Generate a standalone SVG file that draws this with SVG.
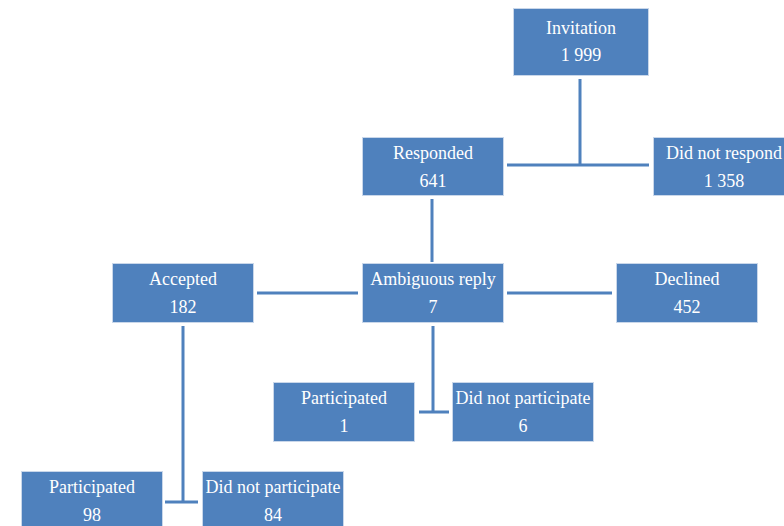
<svg xmlns="http://www.w3.org/2000/svg" width="784" height="526" viewBox="0 0 784 526">
<style>
.box{fill:#4F81BD;stroke:#C9D7EA;stroke-width:1}
.t{font-family:"Liberation Serif","Times New Roman",serif;font-size:18px;fill:#fff;text-anchor:middle}
.c{stroke:#4F81BD;stroke-width:3;fill:none}
</style>
<rect width="784" height="526" fill="#fff"/>
<g id="connectors">
<path class="c" d="M580 79V165M507 165H649"/>
<path class="c" d="M432 199V262"/>
<path class="c" d="M257 293H358M507 293H612"/>
<path class="c" d="M433 326V412M419 412H449"/>
<path class="c" d="M183 326V502M165 502H198"/>
</g>
<g id="invitation"><rect class="box" x="513.5" y="8.5" width="135" height="67"/><text class="t" x="581" y="34">Invitation</text><text class="t" x="581" y="61">1 999</text></g>
<g id="responded"><rect class="box" x="362.5" y="137.5" width="141" height="58"/><text class="t" x="433" y="159">Responded</text><text class="t" x="433" y="187">641</text></g>
<g id="did-not-respond"><rect class="box" x="653.5" y="137.5" width="141" height="58"/><text class="t" x="724" y="159">Did not respond</text><text class="t" x="724" y="187">1 358</text></g>
<g id="accepted"><rect class="box" x="112.5" y="263.5" width="141" height="59"/><text class="t" x="183" y="285">Accepted</text><text class="t" x="183" y="313">182</text></g>
<g id="ambiguous"><rect class="box" x="362.5" y="263.5" width="141" height="59"/><text class="t" x="433" y="285">Ambiguous reply</text><text class="t" x="433" y="313">7</text></g>
<g id="declined"><rect class="box" x="616.5" y="263.5" width="141" height="59"/><text class="t" x="687" y="285">Declined</text><text class="t" x="687" y="313">452</text></g>
<g id="amb-participated"><rect class="box" x="273.5" y="382.5" width="141" height="59"/><text class="t" x="344" y="404">Participated</text><text class="t" x="344" y="432">1</text></g>
<g id="amb-not-participate"><rect class="box" x="452.5" y="382.5" width="141" height="59"/><text class="t" x="523" y="404">Did not participate</text><text class="t" x="523" y="432">6</text></g>
<g id="acc-participated"><rect class="box" x="21.5" y="471.5" width="141" height="60"/><text class="t" x="92" y="493">Participated</text><text class="t" x="92" y="521">98</text></g>
<g id="acc-not-participate"><rect class="box" x="202.5" y="471.5" width="141" height="60"/><text class="t" x="273" y="493">Did not participate</text><text class="t" x="273" y="521">84</text></g>
</svg>
